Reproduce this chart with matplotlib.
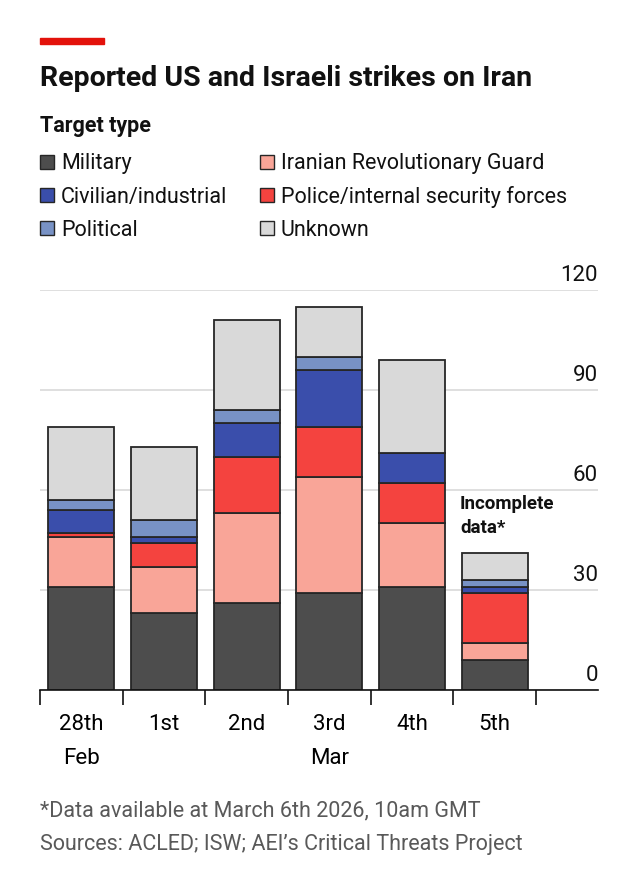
import matplotlib.pyplot as plt
from matplotlib.patches import Rectangle
from matplotlib.transforms import blended_transform_factory

# ============================================================
# DATA
# ============================================================
DAYS = ["28th\nFeb", "1st", "2nd", "3rd\nMar", "4th", "5th"]
CATEGORIES = ["Military", "Iranian Revolutionary Guard", "Police/internal security forces",
              "Civilian/industrial", "Political", "Unknown"]
MILITARY = [31, 23, 26, 29, 31, 9]
REV_GUARD = [15, 14, 27, 35, 19, 5]
POLICE = [1, 7, 17, 15, 12, 15]
CIVILIAN = [7, 2, 10, 17, 9, 2]
POLITICAL = [3, 5, 4, 4, 0, 2]
UNKNOWN = [22, 22, 27, 15, 28, 8]
Y_TICKS = [0, 30, 60, 90, 120]

COLORS = ["#4d4d4d", "#f9a598", "#f4433f", "#3a4eab", "#7892c5", "#d9d9d9"]
EDGE = "#262626"

# legend order (two columns, as in the original)
LEGEND_ORDER = [0, 3, 4, 1, 2, 5]

plt.rcParams["font.family"] = ["Roboto", "DejaVu Sans"]


def render():
    fig = plt.figure(figsize=(6.26, 8.96), dpi=100)
    ax = fig.add_axes([40 / 626, 206 / 896, 558 / 626, 400 / 896])

    series = [MILITARY, REV_GUARD, POLICE, CIVILIAN, POLITICAL, UNKNOWN]
    x = list(range(len(DAYS)))
    bottoms = [0] * len(DAYS)
    for vals, col in zip(series, COLORS):
        ax.bar(x, vals, bottom=bottoms, width=0.8, color=col,
               edgecolor=EDGE, linewidth=1.3, zorder=3)
        bottoms = [b + v for b, v in zip(bottoms, vals)]

    ax.set_xlim(-0.5, 6.25)
    ax.set_ylim(0, 120)
    ax.set_yticks(Y_TICKS)
    ax.tick_params(axis="y", length=0, labelleft=False)
    ax.grid(axis="y", color="#d9d9d9", linewidth=1.2, zorder=0)
    for s in ["top", "right", "left"]:
        ax.spines[s].set_visible(False)
    ax.spines["bottom"].set_color("#111111")
    ax.spines["bottom"].set_linewidth(1.2)
    ax.spines["bottom"].set_zorder(4)

    trans = blended_transform_factory(ax.transAxes, ax.transData)
    for t in Y_TICKS:
        ax.text(1.0, t + 1.2, str(t), transform=trans, ha="right", va="bottom",
                fontsize=16, color="#111111")

    ax.set_xticks(x)
    ax.set_xticklabels(DAYS, fontsize=16, linespacing=1.85, va="top")
    ax.tick_params(axis="x", which="major", length=0, pad=17)
    ax.set_xticks([i - 0.5 for i in range(len(DAYS) + 1)], minor=True)
    ax.tick_params(axis="x", which="minor", length=11, width=1.2, color="#111111")

    ax.text(4.58, 46, "Incomplete\ndata*", ha="left", va="bottom", fontsize=13.5,
            fontweight="bold", linespacing=1.4, color="#111111")

    # header
    fig.patches.append(Rectangle((40 / 626, 1 - 44 / 896), 64 / 626, 6 / 896,
                                 transform=fig.transFigure, color="#e3120b"))
    fig.text(40 / 626, 1 - 78 / 896, "Reported US and Israeli strikes on Iran",
             fontsize=20.5, fontweight="bold", va="center", ha="left", color="#111111")
    fig.text(40 / 626, 1 - 126 / 896, "Target type", fontsize=15.5,
             fontweight="bold", va="center", ha="left", color="#111111")

    # legend
    col_x = [40, 260]
    row_y = [162, 195, 228]
    for k, idx in enumerate(LEGEND_ORDER):
        cx = col_x[k // 3]
        cy = row_y[k % 3]
        fig.patches.append(Rectangle((cx / 626, 1 - (cy + 7) / 896), 14 / 626, 14 / 896,
                                     transform=fig.transFigure, facecolor=COLORS[idx],
                                     edgecolor=EDGE, linewidth=1.0))
        fig.text((cx + 21) / 626, 1 - (cy + 2) / 896, CATEGORIES[idx], fontsize=15.5,
                 va="center", ha="left", color="#111111")

    # footer
    fig.text(40 / 626, 1 - 811 / 896, "*Data available at March 6th 2026, 10am GMT",
             fontsize=15.5, va="center", ha="left", color="#595959")
    fig.text(40 / 626, 1 - 844 / 896, "Sources: ACLED; ISW; AEI\u2019s Critical Threats Project",
             fontsize=15.5, va="center", ha="left", color="#595959")

    fig.savefig("out.png", dpi=100, facecolor="white")
    plt.close(fig)


if __name__ == "__main__":
    render()
